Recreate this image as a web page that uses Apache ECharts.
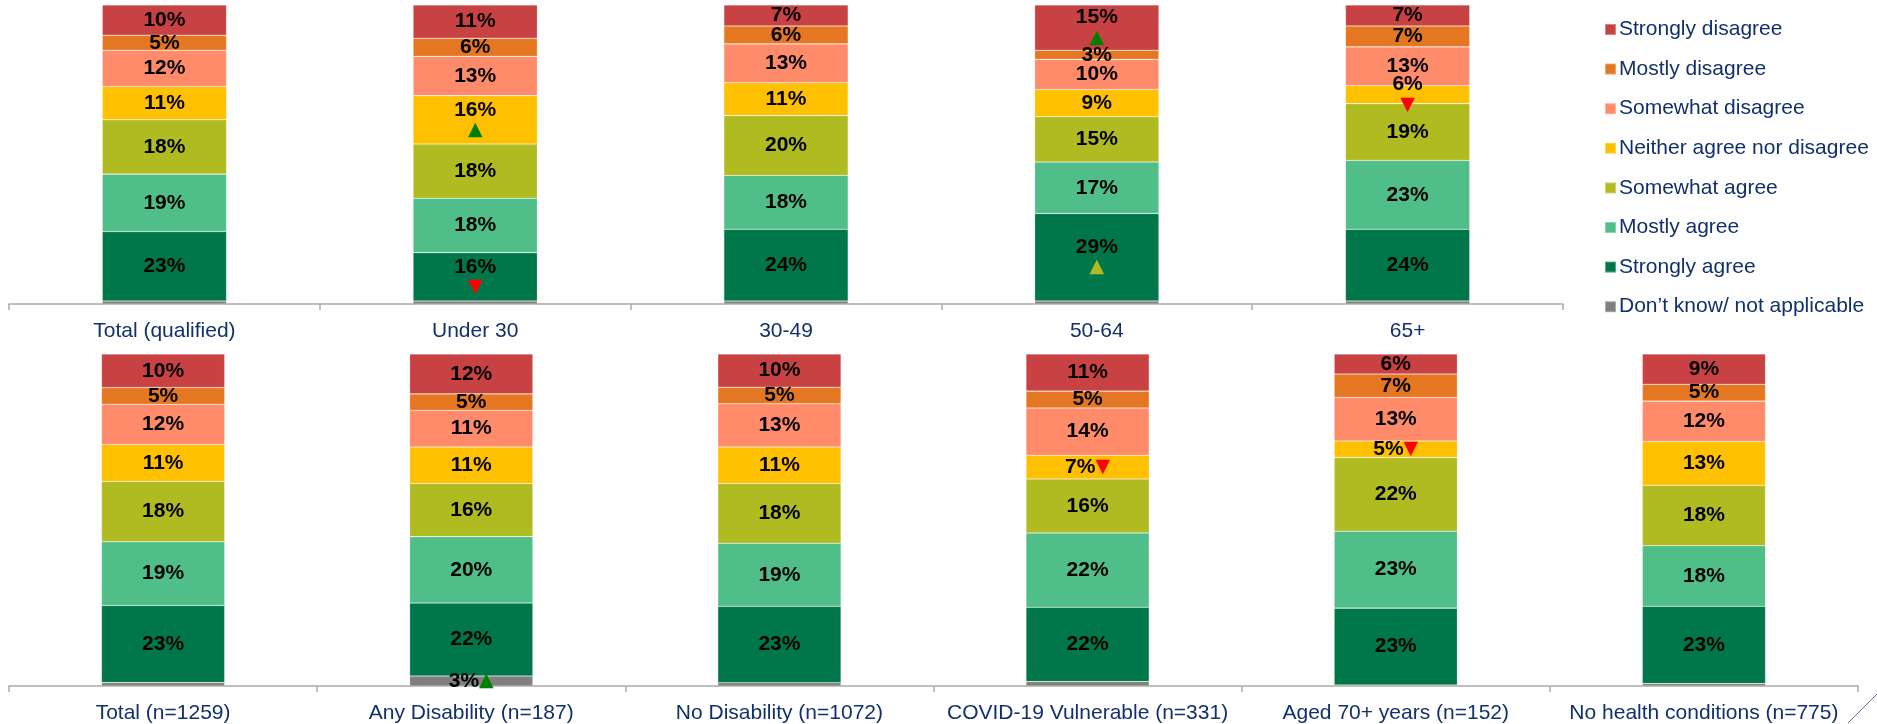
<!DOCTYPE html>
<html>
<head>
<meta charset="utf-8">
<script src="https://cdn.jsdelivr.net/npm/echarts@6/dist/echarts.min.js"></script>
<style>
html,body{margin:0;padding:0;background:#fff;}
#chart{width:1877px;height:724px;}
</style>
</head>
<body>
<div id="chart"></div>
<script>
// ---- Data ----
const categoriesTop = ['Total (qualified)', 'Under 30', '30-49', '50-64', '65+'];
const categoriesBottom = ['Total (n=1259)', 'Any Disability (n=187)', 'No Disability (n=1072)', 'COVID-19 Vulnerable (n=331)', 'Aged 70+ years (n=152)', 'No health conditions (n=775)'];

// stacking order: bottom to top
const seriesNames = ['Don\u2019t know/ not applicable', 'Strongly agree', 'Mostly agree', 'Somewhat agree', 'Neither agree nor disagree', 'Somewhat disagree', 'Mostly disagree', 'Strongly disagree'];
const seriesColors = ['#7F7F7F', '#00774A', '#4FBE88', '#B0BB22', '#FFC000', '#FF8B6B', '#E67722', '#C84244'];

// top row values (%), per series in stacking order
const dontKnowTop        = [1, 1, 1, 1, 1];
const stronglyAgreeTop   = [23, 16, 24, 29, 24];
const mostlyAgreeTop     = [19, 18, 18, 17, 23];
const somewhatAgreeTop   = [18, 18, 20, 15, 19];
const neitherTop         = [11, 16, 11, 9, 6];
const somewhatDisTop     = [12, 13, 13, 10, 13];
const mostlyDisTop       = [5, 6, 6, 3, 7];
const stronglyDisTop     = [10, 11, 7, 15, 7];

// bottom row values (%)
const dontKnowBottom      = [1, 3, 1, 1.3, 0.3, 0.7];
const stronglyAgreeBottom = [23, 22, 23, 22, 23, 23];
const mostlyAgreeBottom   = [19, 20, 19, 22, 23, 18];
const somewhatAgreeBottom = [18, 16, 18, 16, 22, 18];
const neitherBottom       = [11, 11, 11, 7, 5, 13];
const somewhatDisBottom   = [12, 11, 13, 14, 13, 12];
const mostlyDisBottom     = [5, 5, 5, 5, 7, 5];
const stronglyDisBottom   = [10, 12, 10, 11, 6, 9];

// significance markers
const sigMarks = [
  { row: 0, cat: 1, series: 4, dir: 'up',   color: 'green', pos: 'below' },
  { row: 0, cat: 1, series: 1, dir: 'down', color: 'red',   pos: 'below' },
  { row: 0, cat: 3, series: 7, dir: 'up',   color: 'green', pos: 'below' },
  { row: 0, cat: 3, series: 1, dir: 'up',   color: 'olive', pos: 'below' },
  { row: 0, cat: 4, series: 4, dir: 'down', color: 'red',   pos: 'below' },
  { row: 1, cat: 1, series: 0, dir: 'up',   color: 'green', pos: 'right' },
  { row: 1, cat: 3, series: 4, dir: 'down', color: 'red',   pos: 'right' },
  { row: 1, cat: 4, series: 4, dir: 'down', color: 'red',   pos: 'right' }
];

// ---- Build ----
const rows = [
  [dontKnowTop, stronglyAgreeTop, mostlyAgreeTop, somewhatAgreeTop, neitherTop, somewhatDisTop, mostlyDisTop, stronglyDisTop],
  [dontKnowBottom, stronglyAgreeBottom, mostlyAgreeBottom, somewhatAgreeBottom, neitherBottom, somewhatDisBottom, mostlyDisBottom, stronglyDisBottom]
];
const markColors = { green: '#008000', red: '#FF0000', olive: '#B0BB22' };
const navy = '#12306B';
const labelFont = '"Liberation Sans", Arial, sans-serif';

function findMark(r, c, s) {
  return sigMarks.find(m => m.row === r && m.cat === c && m.series === s);
}

const series = [];
rows.forEach((row, r) => {
  const nCat = row[0].length;
  const totals = [];
  for (let c = 0; c < nCat; c++) {
    let t = 0;
    row.forEach(arr => { t += arr[c]; });
    totals.push(t);
  }
  row.forEach((arr, s) => {
    const data = arr.map((v, c) => {
      const mk = findMark(r, c, s);
      const show = v >= 2;
      const txt = Math.round(v) + '%';
      let fmt = '{v|' + txt + '}';
      if (mk) {
        const tri = mk.dir === 'up' ? '\u25B2' : '\u25BC';
        const key = mk.color;
        fmt = mk.pos === 'below' ? '{v|' + txt + '}\n{' + key + '|' + tri + '}' : '{v|' + txt + '}{' + key + '|' + tri + '}';
      }
      return {
        value: v / totals[c] * 100,
        label: { show: show, formatter: fmt }
      };
    });
    series.push({
      name: seriesNames[s],
      type: 'bar',
      stack: 'row' + r,
      xAxisIndex: r,
      yAxisIndex: r,
      barWidth: '40%',
      itemStyle: { color: seriesColors[s], borderColor: 'rgba(255,255,255,0.35)', borderWidth: 0.6 },
      label: {
        position: 'inside',
        rich: {
          v: { fontFamily: labelFont, fontWeight: 'bold', fontSize: 21, color: '#000', lineHeight: 20 },
          green: { fontFamily: 'DejaVu Sans', fontSize: 19, color: markColors.green, lineHeight: 20 },
          red: { fontFamily: 'DejaVu Sans', fontSize: 19, color: markColors.red, lineHeight: 20 },
          olive: { fontFamily: 'DejaVu Sans', fontSize: 19, color: markColors.olive, lineHeight: 20 }
        }
      },
      emphasis: { disabled: true },
      data: data
    });
  });
});

const axisCommon = {
  type: 'category',
  axisLine: { lineStyle: { color: '#ABABAB', width: 1.5 } },
  axisTick: { show: true, length: 6, lineStyle: { color: '#ABABAB', width: 1.5 } },
  axisLabel: { color: navy, fontSize: 21, fontFamily: labelFont, margin: 17, interval: 0 }
};

const option = {
  animation: false,
  backgroundColor: '#fff',
  grid: [
    { left: 9, top: 5, width: 1554, height: 299 },
    { left: 9, top: 354, width: 1849, height: 333 }
  ],
  xAxis: [
    Object.assign({}, axisCommon, { gridIndex: 0, data: categoriesTop }),
    Object.assign({}, axisCommon, { gridIndex: 1, data: categoriesBottom })
  ],
  yAxis: [
    { type: 'value', gridIndex: 0, min: 0, max: 100, show: false },
    { type: 'value', gridIndex: 1, min: 0, max: 100, show: false }
  ],
  legend: {
    orient: 'vertical',
    left: 1604,
    top: 19,
    padding: 0,
    icon: 'rect',
    itemWidth: 11,
    itemHeight: 11,
    itemGap: 18.6,
    data: seriesNames.slice().reverse(),
    textStyle: { color: navy, fontSize: 21, fontFamily: labelFont, padding: [0, 0, 0, -2] },
    selectedMode: false
  },
  graphic: [
    { type: 'line', shape: { x1: 1848, y1: 723, x2: 1877, y2: 694 }, style: { stroke: '#5A6E98', lineWidth: 1 } }
  ],
  series: series
};

const chart = echarts.init(document.getElementById('chart'), null, { renderer: 'canvas' });
chart.setOption(option);
</script>
</body>
</html>
